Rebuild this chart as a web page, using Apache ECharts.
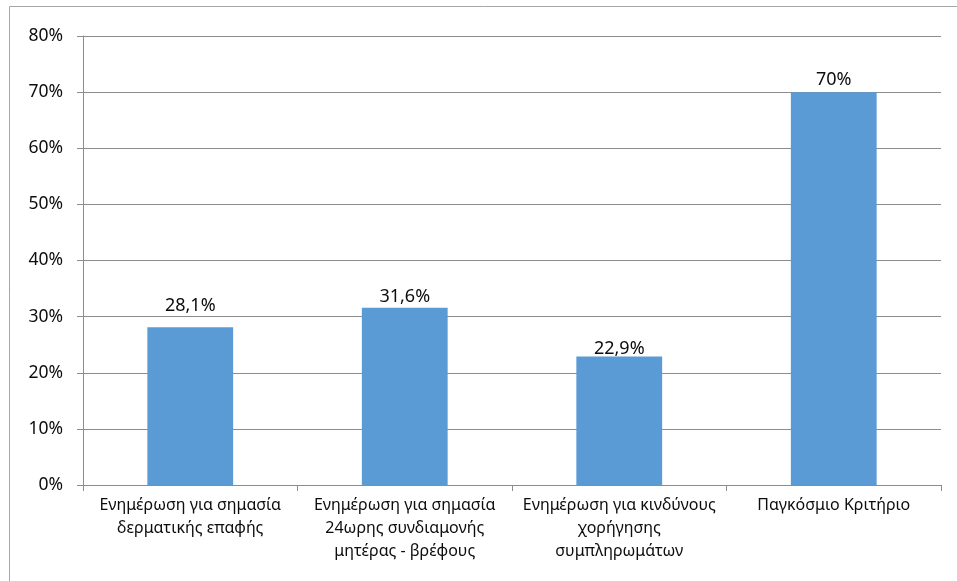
<!DOCTYPE html>
<html>
<head>
<meta charset="utf-8">
<script src="https://cdn.jsdelivr.net/npm/echarts@6/dist/echarts.min.js"></script>
<style>
  html, body { margin: 0; padding: 0; background: #fff; }
  #chart { width: 957px; height: 581px; }
</style>
</head>
<body>
<div id="chart"></div>
<script>
// Categories (Greek labels, wrapped onto lines)
const categories = [
  'Ενημέρωση για σημασία\nδερματικής επαφής',
  'Ενημέρωση για σημασία\n24ωρης συνδιαμονής\nμητέρας - βρέφους',
  'Ενημέρωση για κινδύνους\nχορήγησης\nσυμπληρωμάτων',
  'Παγκόσμιο Κριτήριο'
];
// Percentages per category
const values = [28.1, 31.6, 22.9, 70];
// Value axis range
const yMin = 0;
const yMax = 80;
const yStep = 10;

// Gap between each value label and its bar
const labelGap = [12, 2, -1, 3];

const FONT = 'Noto Sans';
const TEXT = '#0d0d0d';
const chart = echarts.init(document.getElementById('chart'), null, { renderer: 'canvas' });

chart.setOption({
  animation: false,
  backgroundColor: '#ffffff',
  textStyle: { fontFamily: FONT },
  graphic: [{
    type: 'rect',
    shape: { x: 9.5, y: 6.5, width: 1000, height: 700 },
    style: { fill: 'none', stroke: '#a6a6a6', lineWidth: 1 },
    silent: true,
    z: -10
  }],
  grid: { left: 83, right: 16, top: 36, bottom: 96, containLabel: false },
  xAxis: {
    type: 'category',
    data: categories,
    axisLine: { show: true, lineStyle: { color: '#8c8c8c', width: 1 } },
    axisTick: { show: true, alignWithLabel: false, length: 6, lineStyle: { color: '#8c8c8c' } },
    axisLabel: {
      interval: 0,
      color: TEXT,
      fontFamily: FONT,
      fontSize: 16,
      lineHeight: 23,
      margin: 9,
      align: 'center'
    },
    splitLine: { show: false }
  },
  yAxis: {
    type: 'value',
    min: yMin,
    max: yMax,
    interval: yStep,
    axisLine: { show: true, lineStyle: { color: '#8c8c8c', width: 1 } },
    axisTick: { show: true, length: 6, lineStyle: { color: '#8c8c8c' } },
    axisLabel: {
      color: TEXT,
      fontFamily: FONT,
      fontSize: 17.5,
      margin: 20,
      formatter: v => v + '%'
    },
    splitLine: { show: true, lineStyle: { color: '#8c8c8c', width: 1 } }
  },
  series: [{
    type: 'bar',
    data: values.map((v, i) => ({ value: v, label: { distance: labelGap[i] } })),
    barWidth: '40%',
    itemStyle: { color: '#5b9bd5' },
    label: {
      show: true,
      position: 'top',
      color: TEXT,
      fontFamily: FONT,
      fontSize: 18,
      formatter: p => String(p.value).replace('.', ',') + '%'
    }
  }]
});
</script>
</body>
</html>
